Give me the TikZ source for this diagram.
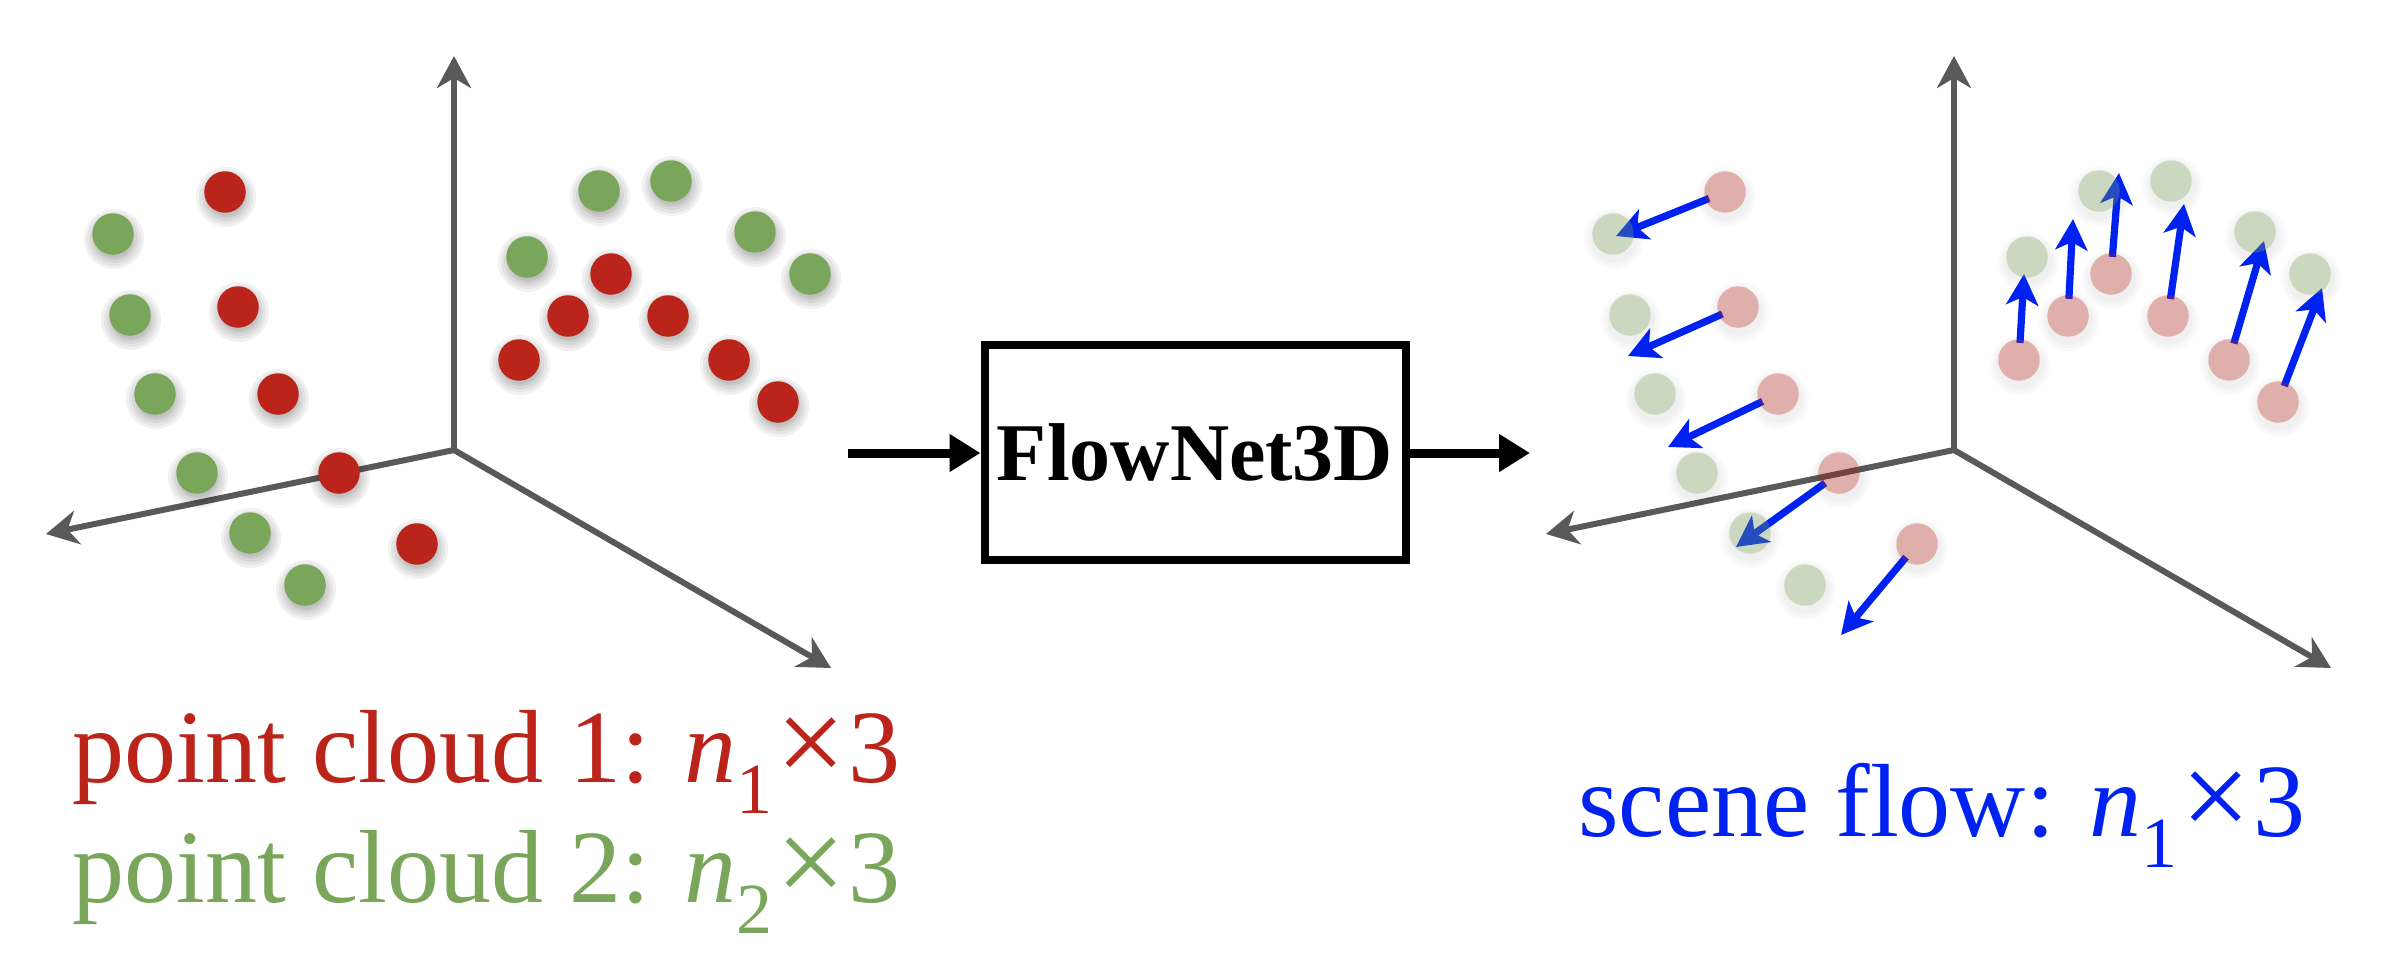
\documentclass[tikz,border=0pt]{standalone}
\usepackage{fontspec}
\usepackage{graphicx}
\setmainfont{Liberation Serif}
\usetikzlibrary{arrows.meta}
\definecolor{cred}{RGB}{187,36,27}
\definecolor{cgreen}{RGB}{121,166,90}
\definecolor{caxis}{RGB}{89,89,89}
\definecolor{cblue}{RGB}{0,34,240}
\pgfdeclarelayer{axeslayer}
\pgfdeclarelayer{shadowlayer}
\pgfdeclarelayer{arrowlayer}
\pgfsetlayers{axeslayer,shadowlayer,arrowlayer,main}
\newcommand\mysub[1]{\raisebox{-0.3em}{\fontsize{36pt}{36pt}\selectfont #1}}
\newcommand\mytimes{\kern0.04em\raisebox{-0.01em}{\scalebox{1.18}{×}}\kern0.02em}
\begin{document}
\begin{tikzpicture}[x=0.5pt,y=-0.5pt,
  dot/.style={circle, minimum size=20.75pt, inner sep=0pt},
  rdot/.style={dot, fill=cred},
  gdot/.style={dot, fill=cgreen},
  frdot/.style={dot, fill=cred, fill opacity=0.32},
  fgdot/.style={dot, fill=cgreen, fill opacity=0.32},
  shade/.style={fill=black, opacity=#1},
  axisline/.style={draw=caxis, line width=3pt, -{Stealth[length=16pt,width=17pt,inset=5pt]}},
  flow/.style={draw=cblue, line width=3.6pt, shorten <=-2pt, -{Stealth[length=15.5pt,width=16pt,inset=4pt]}},
  pipe/.style={draw=black, line width=4.5pt, -{Triangle[length=15.5pt,width=18pt]}},
  netbox/.style={draw=black, line width=4pt, minimum width=210.5pt, minimum height=107.5pt, inner sep=0pt, font=\fontsize{41pt}{48pt}\selectfont\bfseries},
  lab/.style={anchor=base west, inner sep=0pt, font=\fontsize{52pt}{60pt}\selectfont}
]
\useasboundingbox (0,0) rectangle (2388,958);

% ---------------- left panel ----------------
\coordinate (O1) at (454,450);
\coordinate (V1) at (454,56);
\coordinate (L1) at (46,534);
\coordinate (R1) at (831,668);
\begin{pgfonlayer}{axeslayer}
\draw[axisline] (O1) -- (V1);
\draw[axisline] (O1) -- (L1);
\draw[axisline] (O1) -- (R1);
\end{pgfonlayer}
\node[gdot] (a1) at (113,234) {};
\node[gdot] (a2) at (130,315) {};
\node[gdot] (a3) at (155,394) {};
\node[gdot] (a4) at (197,473) {};
\node[gdot] (a5) at (250,533) {};
\node[gdot] (a6) at (305,585) {};
\node[gdot] (a7) at (599,191) {};
\node[gdot] (a8) at (671,181) {};
\node[gdot] (a9) at (755,232) {};
\node[gdot] (a10) at (810,274) {};
\node[gdot] (a11) at (527,257) {};
\node[rdot] (b1) at (225,192) {};
\node[rdot] (b2) at (238,307) {};
\node[rdot] (b3) at (278,394) {};
\node[rdot] (b4) at (339,473) {};
\node[rdot] (b5) at (417,544) {};
\node[rdot] (b6) at (611,274) {};
\node[rdot] (b7) at (568,316) {};
\node[rdot] (b8) at (668,316) {};
\node[rdot] (b9) at (519,360) {};
\node[rdot] (b10) at (729,360) {};
\node[rdot] (b11) at (778,402) {};
\begin{pgfonlayer}{shadowlayer}
\foreach \n in {a1,a2,a3,a4,a5,a6,a7,a8,a9,a10,a11,b1,b2,b3,b4,b5,b6,b7,b8,b9,b10,b11}
  \foreach \r in {15,13.5,12,10.5,9.5}
    \fill[shade=0.055] ([shift={(1,5)}]\n.center) circle[radius=\r pt];
\end{pgfonlayer}

% ---------------- middle ----------------
\node[netbox] (net) at (1195,452.5) {FlowNet3D};
\coordinate (in1) at (848,453);
\coordinate (out1) at (1530,453);
\draw[pipe] (in1) -- (in1 -| net.west);
\draw[pipe] (net.east |- out1) -- (out1);

% ---------------- right panel ----------------
\begin{scope}[shift={(1500,0)}]
\coordinate (O2) at (454,450);
\coordinate (V2) at (454,56);
\coordinate (L2) at (46,534);
\coordinate (R2) at (831,668);
\begin{pgfonlayer}{axeslayer}
\draw[axisline] (O2) -- (V2);
\draw[axisline] (O2) -- (L2);
\draw[axisline] (O2) -- (R2);
\end{pgfonlayer}
\node[fgdot] (c1) at (113,234) {};
\node[fgdot] (c2) at (130,315) {};
\node[fgdot] (c3) at (155,394) {};
\node[fgdot] (c4) at (197,473) {};
\node[fgdot] (c5) at (250,533) {};
\node[fgdot] (c6) at (305,585) {};
\node[fgdot] (c7) at (599,191) {};
\node[fgdot] (c8) at (671,181) {};
\node[fgdot] (c9) at (755,232) {};
\node[fgdot] (c10) at (810,274) {};
\node[fgdot] (c11) at (527,257) {};
\node[frdot] (d1) at (225,192) {};
\node[frdot] (d2) at (238,307) {};
\node[frdot] (d3) at (278,394) {};
\node[frdot] (d4) at (339,473) {};
\node[frdot] (d5) at (417,544) {};
\node[frdot] (d6) at (611,274) {};
\node[frdot] (d7) at (568,316) {};
\node[frdot] (d8) at (668,316) {};
\node[frdot] (d9) at (519,360) {};
\node[frdot] (d10) at (729,360) {};
\node[frdot] (d11) at (778,402) {};
\begin{pgfonlayer}{shadowlayer}
\foreach \n in {c1,c2,c3,c4,c5,c6,c7,c8,c9,c10,c11,d1,d2,d3,d4,d5,d6,d7,d8,d9,d10,d11}
  \foreach \r in {15,13.5,12}
    \fill[shade=0.018] ([shift={(1,5)}]\n.center) circle[radius=\r pt];
\end{pgfonlayer}
\coordinate (e1) at (116,236);
\coordinate (e2) at (128,356);
\coordinate (e3) at (168,447);
\coordinate (e4) at (236,547);
\coordinate (e5) at (341,635);
\coordinate (e6) at (619,173);
\coordinate (e7) at (573,219);
\coordinate (e8) at (684,204);
\coordinate (e9) at (524,274);
\coordinate (e10) at (764,241);
\coordinate (e11) at (822,288);
\begin{pgfonlayer}{arrowlayer}
\foreach \i in {1,...,11} {\draw[flow] (d\i) -- (e\i);}
\end{pgfonlayer}
\end{scope}

% ---------------- labels ----------------
\node[lab, text=cred] (pc1) at (72,782) {point cloud 1: \textit{n}\mysub{1}\mytimes3};
\node[lab, text=cgreen] (pc2) at (72,902) {point cloud 2: \textit{n}\mysub{2}\mytimes3};
\node[lab, text=cblue] (sf) at (1578,836) {scene flow: \textit{n}\mysub{1}\mytimes3};
\end{tikzpicture}
\end{document}
